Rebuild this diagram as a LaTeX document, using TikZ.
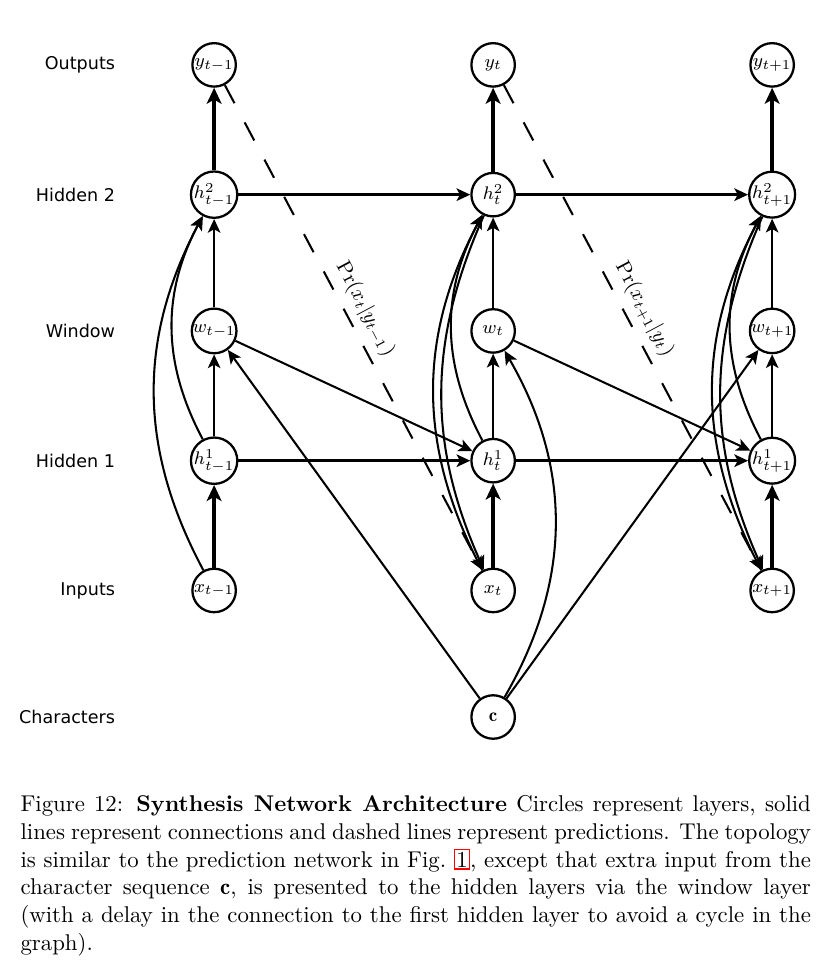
\documentclass[tikz,border=0pt]{standalone}
\usepackage{amsmath}
\usepackage{fontspec}
\newfontfamily\labfont{DejaVu Sans}
\usetikzlibrary{arrows.meta}
\tikzset{layer/.style={circle, draw, line width=1pt, minimum size=0.67cm, inner sep=0pt, font=\fontsize{8.3}{10}\selectfont},
  rowname/.style={anchor=east, inner sep=0pt, font=\labfont\fontsize{7.7}{9}\selectfont},
  conn/.style={->, line width=0.9pt},
  heavy/.style={-{Stealth[length=7pt,width=6.5pt,inset=1.8pt]}, line width=1.8pt},
  recur/.style={->, line width=1.3pt},
  pred/.style={->, line width=0.9pt, dash pattern=on 9pt off 9.5pt}}
\begin{document}
\begin{tikzpicture}[>={Stealth[length=6pt,width=5.5pt,inset=1.5pt]}]
\useasboundingbox (0,0) rectangle (12.86,-14.98);
\node[rowname] (lo) at (1.78,-1) {Outputs};\node[rowname] (lh2) at (1.78,-3) {Hidden 2};\node[rowname] (lw) at (1.78,-5.1) {Window};
\node[rowname] (lh1) at (1.78,-7.1) {Hidden 1};\node[rowname] (li) at (1.78,-9.1) {Inputs};\node[rowname] (lc) at (1.78,-11.05) {Characters};
\node[layer] (ym) at (3.3,-1) {$y_{t-1}$};\node[layer] (yt) at (7.6,-1) {$y_t$};\node[layer] (yp) at (11.9,-1) {$y_{t+1}$};
\node[layer] (h2m) at (3.3,-3) {$h^2_{t-1}$};\node[layer] (h2t) at (7.6,-3) {$h^2_t$};\node[layer] (h2p) at (11.9,-3) {$h^2_{t+1}$};
\node[layer] (wm) at (3.3,-5.1) {$w_{t-1}$};\node[layer] (wt) at (7.6,-5.1) {$w_t$};\node[layer] (wp) at (11.9,-5.1) {$w_{t+1}$};
\node[layer] (h1m) at (3.3,-7.1) {$h^1_{t-1}$};\node[layer] (h1t) at (7.6,-7.1) {$h^1_t$};\node[layer] (h1p) at (11.9,-7.1) {$h^1_{t+1}$};
\node[layer] (xm) at (3.3,-9.1) {$x_{t-1}$};\node[layer] (xt) at (7.6,-9.1) {$x_t$};\node[layer] (xp) at (11.9,-9.1) {$x_{t+1}$};
\node[layer] (c) at (7.6,-11.05) {$\mathbf{c}$};
\draw[heavy] (xm) -- (h1m);\draw[heavy] (xt) -- (h1t);\draw[heavy] (xp) -- (h1p);
\draw[heavy] (h2m) -- (ym);\draw[heavy] (h2t) -- (yt);\draw[heavy] (h2p) -- (yp);
\draw[conn] (h1m) -- (wm);\draw[conn] (h1t) -- (wt);\draw[conn] (h1p) -- (wp);
\draw[conn] (wm) -- (h2m);\draw[conn] (wt) -- (h2t);\draw[conn] (wp) -- (h2p);
\draw[conn] (h1m) to[bend left=28] (h2m);\draw[conn] (h1t) to[bend left=28] (h2t);\draw[conn] (h1p) to[bend left=28] (h2p);
\draw[conn] (xm) to[bend left=28] (h2m);\draw[conn] (xt) to[bend left=28] (h2t);\draw[conn] (xp) to[bend left=28] (h2p);
\draw[conn] (h2t) to[bend right=24] (xt);\draw[conn] (h2p) to[bend right=24] (xp);
\draw[recur] (h1m) -- (h1t);\draw[recur] (h1t) -- (h1p);\draw[recur] (h2m) -- (h2t);\draw[recur] (h2t) -- (h2p);
\draw[conn] (wm) -- (h1t);\draw[conn] (wt) -- (h1p);
\draw[conn] (c) -- (wm);\draw[conn] (c) to[bend right=30] (wt);\draw[conn] (c) -- (wp);
\draw[pred] (ym) -- node[sloped, above, pos=0.48, font=\small] {$\Pr(x_t|y_{t-1})$} (xt);
\draw[pred] (yt) -- node[sloped, above, pos=0.48, font=\small] {$\Pr(x_{t+1}|y_t)$} (xp);
\node[anchor=north west, inner sep=0pt, text width=12.18cm, align=justify, font=\fontsize{10}{12.2}\selectfont] (cap) at (0.31,-12.25)
{Figure 12: \textbf{Synthesis Network Architecture} Circles represent layers, solid\linebreak
lines represent connections and dashed lines represent predictions. The topology\linebreak
is similar to the prediction network in Fig.~{\color{red}\fboxsep=0.6pt\fboxrule=0.5pt\fbox{\color{black}1}}, except that extra input from the\linebreak
character sequence $\mathbf{c}$, is presented to the hidden layers via the window layer\linebreak
(with a delay in the connection to the first hidden layer to avoid a cycle in the\linebreak
graph).};
\end{tikzpicture}
\end{document}
